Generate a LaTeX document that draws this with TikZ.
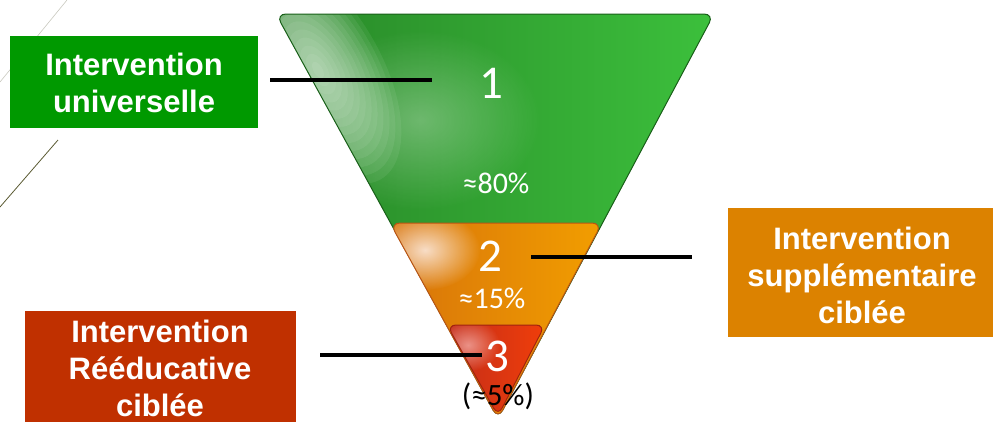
\documentclass[tikz,border=0pt]{standalone}
\usepackage{fontspec}
\setmainfont{Liberation Sans}
\newfontfamily\carl{Carlito}
\usetikzlibrary{fadings}
\definecolor{gboxc}{RGB}{0,153,0}
\definecolor{oboxc}{RGB}{220,130,0}
\definecolor{rboxc}{RGB}{192,48,0}
\definecolor{gleft}{RGB}{40,135,40}
\definecolor{gright}{RGB}{60,192,60}
\definecolor{gedge}{RGB}{25,95,25}
\definecolor{oleft}{RGB}{215,115,10}
\definecolor{oright}{RGB}{242,158,0}
\definecolor{oedge}{RGB}{185,85,20}
\definecolor{rleft}{RGB}{195,45,25}
\definecolor{rright}{RGB}{240,62,10}
\definecolor{redge}{RGB}{160,35,15}
\definecolor{decoA}{RGB}{200,200,190}
\definecolor{decoB}{RGB}{90,90,50}
\tikzfading[name=glowfade, inner color=transparent!0, outer color=transparent!100]
\tikzset{
  labelbox/.style={fill=#1, draw=none},
  labeltext/.style={text=white, font=\bfseries\fontsize{31}{37}\selectfont, align=center},
  tritext/.style={text=white, font=\carl\fontsize{#1}{#1}\selectfont, inner sep=0pt},
  leader/.style={line width=3.5pt, black},
  tiershape/.style={rounded corners=10pt}
}
\begin{document}
\begin{tikzpicture}[x=1pt,y=-1pt]
\useasboundingbox (0,0) rectangle (993,421);
\clip (0,0) rectangle (993,421);

% decorative thin lines
\draw[decoA, line width=0.6pt] (0,82) -- (67,0);
\draw[decoB, line width=0.8pt] (0,207) -- (58,140);

% green tier
\shade[tiershape, left color=gleft, right color=gright] (276,14) -- (714,14) -- (498,419) -- cycle;
\begin{scope}
  \clip[tiershape] (276,14) -- (714,14) -- (498,419) -- cycle;
  \begin{scope}[shift={(318,70)}, rotate=-60]
    \foreach \k in {1,...,14} {
      \fill[white, fill opacity=0.07] (0,0) ellipse [x radius={9*\k}, y radius={4.5*\k}];
    }
  \end{scope}
  \fill[white, fill opacity=0.3, path fading=glowfade] (420,120) ellipse [x radius=120, y radius=90];
\end{scope}
\draw[tiershape, gedge, line width=1pt] (276,14) -- (714,14) -- (498,419) -- cycle;

% orange tier
\shade[tiershape, left color=oleft, right color=oright] (390,223) -- (602,223) -- (498,419) -- cycle;
\begin{scope}
  \clip[tiershape] (390,223) -- (602,223) -- (498,419) -- cycle;
  \fill[white!85!pink, fill opacity=0.8, path fading=glowfade] (425,250) ellipse [x radius=55, y radius=40];
\end{scope}
\draw[tiershape, oedge, line width=1pt] (390,223) -- (602,223) -- (498,419) -- cycle;

% red tier
\shade[tiershape, rounded corners=9pt, left color=rleft, right color=rright] (447,325) -- (545,325) -- (498,416) -- cycle;
\begin{scope}
  \clip[tiershape, rounded corners=9pt] (447,325) -- (545,325) -- (498,416) -- cycle;
  \fill[pink!70!white, fill opacity=0.6, path fading=glowfade] (468,345) ellipse [x radius=32, y radius=26];
\end{scope}
\draw[tiershape, rounded corners=9pt, redge, line width=1pt] (447,325) -- (545,325) -- (498,416) -- cycle;

% tier texts
\node[tritext=47] (n1) at (491,83) {1};
\node[tritext=30] (p1) at (496,183) {≈80\%};
\node[tritext=47] (n2) at (490,256) {2};
\node[tritext=30] (p2) at (492,298) {≈15\%};
\node[tritext=47] (n3) at (497,356) {3};
\node[tritext=31, text=black] (p3) at (498,396) {(≈5\%)};

% label boxes
\fill[labelbox=gboxc] (10,36) rectangle (258,128);
\node[labeltext] (lu) at (134,83) {Intervention\\universelle};
\fill[labelbox=oboxc] (728,208) rectangle (1000,337);
\node[labeltext] (ls) at (862,275) {Intervention\\supplémentaire\\ciblée};
\fill[labelbox=rboxc] (25,311) rectangle (296,440);
\node[labeltext] (lr) at (160,368) {Intervention\\Rééducative\\ciblée};

% leader lines
\coordinate (a1) at (270,80);
\coordinate (b1) at (432,80);
\coordinate (a2) at (531,257);
\coordinate (b2) at (692,257);
\coordinate (a3) at (320,355);
\coordinate (b3) at (482,355);
\draw[leader] (a1) -- (b1);
\draw[leader] (a2) -- (b2);
\draw[leader] (a3) -- (b3);
\end{tikzpicture}
\end{document}
